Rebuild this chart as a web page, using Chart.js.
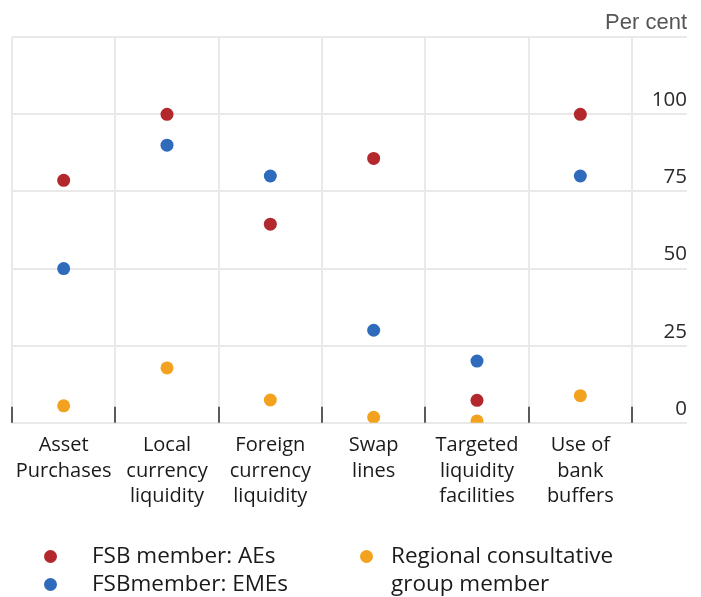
<!DOCTYPE html>
<html>
<head>
<meta charset="utf-8">
<script src="https://cdn.jsdelivr.net/npm/chart.js@4.4.1/dist/chart.umd.min.js"></script>
<style>
  html, body { margin: 0; padding: 0; background: #fff; }
  #wrap { position: relative; width: 701px; height: 597px; }
  #legend { font-family: 'Open Sans', sans-serif; font-size: 22.5px; color: #1a1a1a; }
  .item { position: absolute; display: flex; align-items: flex-start; line-height: 28px; }
  .dot { flex: none; width: 13px; height: 13px; border-radius: 50%; margin-top: 9px; }
</style>
</head>
<body>
<div id="wrap">
  <canvas id="chart1" width="701" height="597"></canvas>
  <div id="legend"></div>
</div>
<script>

const categories = [
  ['Asset', 'Purchases'],
  ['Local', 'currency', 'liquidity'],
  ['Foreign', 'currency', 'liquidity'],
  ['Swap', 'lines'],
  ['Targeted', 'liquidity', 'facilities'],
  ['Use of', 'bank', 'buffers']
]

const seriesNames = ['FSB member: AEs', 'FSBmember: EMEs', 'Regional consultative group member']
const aes = [78.6, 100, 64.4, 85.7, 7.3, 100]
const emes = [50, 90, 80, 30, 20, 80]
const regional = [5.5, 17.8, 7.4, 1.8, 0.6, 8.8]
const yTicks = [0, 25, 50, 75, 100, 125]

const colors = ['#b2282d', '#2f6bbb', '#f2a21e']

const font = "'Open Sans', sans-serif"
const gridColor = '#e9e9e9'

// short dark tick marks sitting inside the plot at each category boundary
const innerTicks = {
  id: 'innerTicks',
  afterDraw: chart => {
    const { ctx, scales: { x }, chartArea } = chart
    ctx.save()
    ctx.strokeStyle = '#5a5a5a'
    ctx.lineWidth = 2
    for (let i = 0; i <= categories.length; i++) {
      const px = Math.round(x.getPixelForValue(i - 0.5))
      ctx.beginPath()
      ctx.moveTo(px, chartArea.bottom - 16)
      ctx.lineTo(px, chartArea.bottom)
      ctx.stroke()
    }
    ctx.restore()
  }
}

const data = {
  labels: categories,
  datasets: [aes, emes, regional].map((values, i) => ({
    label: seriesNames[i],
    data: values,
    showLine: false,
    pointRadius: 6.5,
    pointHoverRadius: 6.5,
    pointBorderWidth: 0,
    pointBackgroundColor: colors[i],
    borderColor: colors[i],
    backgroundColor: colors[i],
    clip: 0
  }))
}

const options = {
  responsive: false,
  animation: false,
  layout: {
    padding: { left: 12, right: 14, bottom: 78 }
  },
  plugins: {
    legend: { display: false },
    tooltip: { enabled: false },
    title: {
      display: true,
      text: 'Per cent',
      align: 'end',
      color: '#555',
      font: { family: "'Liberation Sans', Arial, sans-serif", size: 22, weight: 'normal', lineHeight: 1.1 },
      padding: { top: 11, bottom: 2 }
    }
  },
  scales: {
    x: {
      offset: true,
      grid: { offset: true, color: gridColor, lineWidth: 2, drawTicks: false },
      border: { color: gridColor, width: 2 },
      ticks: {
        color: '#1a1a1a',
        padding: 10,
        maxRotation: 0,
        autoSkip: false,
        font: { family: font, size: 20, lineHeight: 1.27 }
      }
    },
    y: {
      position: 'right',
      min: 0,
      max: 125,
      afterBuildTicks: scale => { scale.ticks = yTicks.map(value => ({ value })) },
      afterFit: scale => { scale.width = 55 },
      grid: { color: gridColor, lineWidth: 2, tickLength: 55 },
      border: { color: gridColor, width: 2 },
      ticks: {
        color: '#2a2a2a',
        crossAlign: 'far',
        padding: -36,
        labelOffset: -14,
        font: { family: font, size: 20.5 },
        callback: v => v === 125 ? '' : v
      }
    }
  }
}

new Chart('chart1', {
  type: 'line',
  data,
  options,
  plugins: [innerTicks]
})

// legend: two columns, the long label wraps under itself
const legendPos = [
  { left: 44, top: 541, width: 300, gap: 35 },
  { left: 44, top: 569, width: 300, gap: 35 },
  { left: 360, top: 541, width: 300, gap: 18 }
]
const legend = document.getElementById('legend')
seriesNames.forEach((name, i) => {
  const item = document.createElement('div')
  item.className = 'item'
  item.style.left = legendPos[i].left + 'px'
  item.style.top = legendPos[i].top + 'px'
  item.style.width = legendPos[i].width + 'px'
  item.innerHTML = `<span class="dot" style="background:${colors[i]};margin-right:${legendPos[i].gap}px"></span><span style="width:240px">${name}</span>`
  legend.appendChild(item)
})

</script>
</body>
</html>
